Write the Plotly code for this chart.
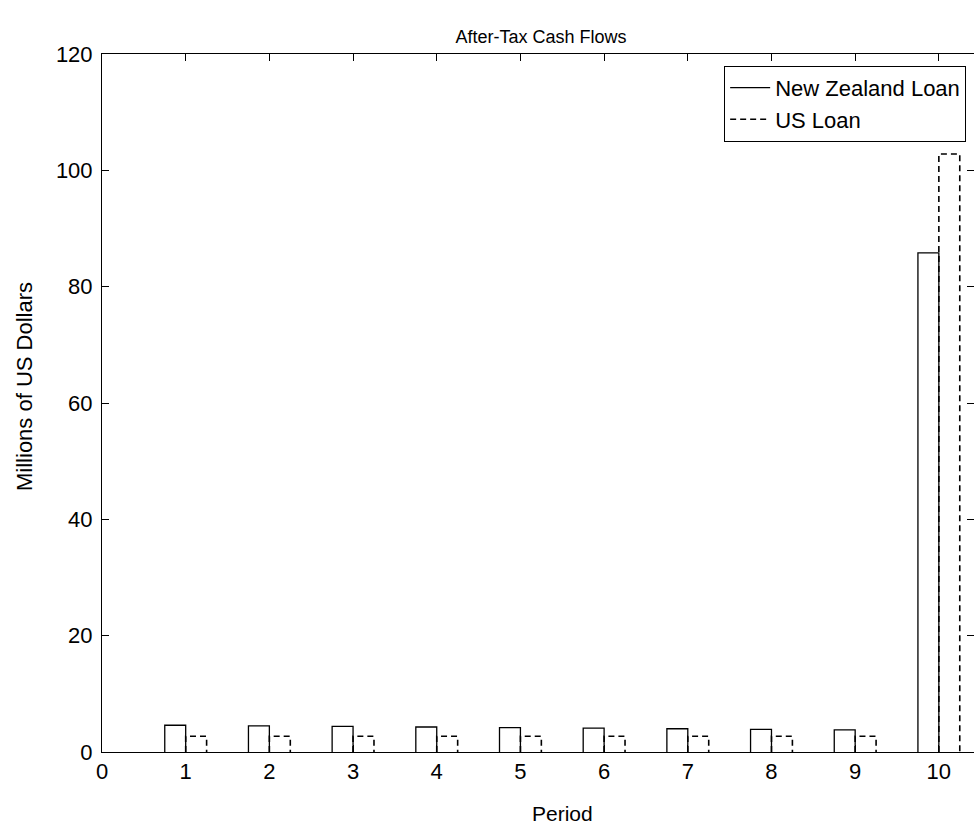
import numpy as np
import plotly.graph_objects as go

# After-tax cash flows per period (millions of US dollars)
periods = [1, 2, 3, 4, 5, 6, 7, 8, 9, 10]
nz_loan = [4.6, 4.5, 4.4, 4.3, 4.2, 4.1, 4.0, 3.9, 3.8, 85.8]
us_loan = [2.7, 2.7, 2.7, 2.7, 2.7, 2.7, 2.7, 2.7, 2.7, 102.8]

x_ticks = list(range(0, 11))
y_ticks = [0, 20, 40, 60, 80, 100, 120]

BAR_W = 0.25
FONT = "Liberation Sans, Arial, sans-serif"
W, H = 974, 825
L, T, B = 102, 54, 73


def bar_outline(xs, ys, left_offset):
    """Open rectangle outlines (left, top, right edges) for a bar series."""
    px, py = [], []
    for x, y in zip(xs, ys):
        x0 = x + left_offset
        x1 = x0 + BAR_W
        px += [x0, x0, x1, x1, None]
        py += [0, y, y, 0, None]
    return px, py


nz_x, nz_y = bar_outline(periods, nz_loan, -BAR_W)
us_x, us_y = bar_outline(periods, us_loan, 0.0)

fig = go.Figure()
fig.add_trace(go.Scatter(
    x=nz_x, y=nz_y, mode="lines", name="New Zealand Loan",
    line=dict(color="black", width=1.3), connectgaps=False,
    hoverinfo="skip",
))
fig.add_trace(go.Scatter(
    x=us_x, y=us_y, mode="lines", name="US Loan",
    line=dict(color="black", width=1.6, dash="6px,4px"), connectgaps=False,
    hoverinfo="skip",
))

fig.update_layout(
    width=W, height=H,
    margin=dict(l=L, r=0, t=T, b=B),
    paper_bgcolor="white", plot_bgcolor="white",
    font=dict(family=FONT, color="black", size=22),
    title=dict(text="After-Tax Cash Flows", x=541 / W, xanchor="center",
               y=1 - 37 / H, yanchor="middle", font=dict(size=18)),
    showlegend=True,
    legend=dict(x=0.991, y=0.983, xanchor="right", yanchor="top",
                bgcolor="white", bordercolor="black", borderwidth=1,
                font=dict(size=22), itemwidth=40, tracegroupgap=0),
    annotations=[
        dict(text="Period", xref="paper", yref="paper",
             x=(562 - L) / (W - L), y=-(813 - (H - B)) / (H - T - B),
             xanchor="center", yanchor="middle", showarrow=False,
             font=dict(size=21)),
        dict(text="Millions of US Dollars", xref="paper", yref="paper",
             x=-(L - 24) / (W - L), y=((H - B) - 387) / (H - T - B),
             xanchor="center", yanchor="middle", showarrow=False,
             textangle=-90, font=dict(size=22)),
    ],
)
fig.update_xaxes(
    range=[0, 10.42], tickvals=x_ticks, ticktext=[str(t) for t in x_ticks],
    showgrid=False, zeroline=False, showline=True, linecolor="black", linewidth=1,
    mirror="ticks", ticks="inside", ticklen=7, tickcolor="black",
)
fig.update_yaxes(
    range=[0, 120], tickvals=y_ticks, ticktext=[str(t) for t in y_ticks],
    showgrid=False, zeroline=False, showline=True, linecolor="black", linewidth=1,
    mirror="ticks", ticks="inside", ticklen=7, tickcolor="black",
    ticklabelstandoff=4,
)

fig.write_html("out.html")
